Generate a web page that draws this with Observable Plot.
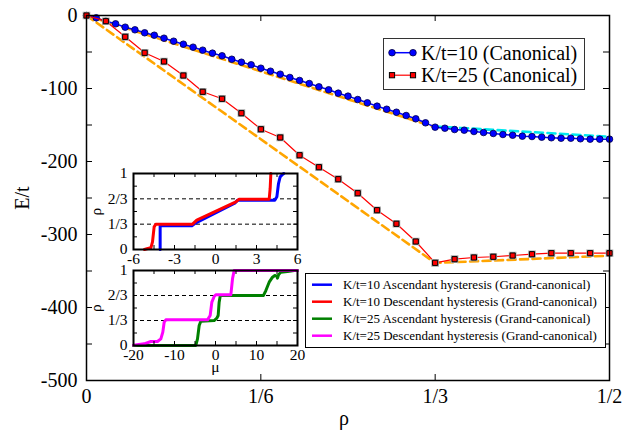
<!DOCTYPE html>
<html><head><meta charset="utf-8">
<script src="https://cdn.jsdelivr.net/npm/d3@7"></script>
<script src="https://cdn.jsdelivr.net/npm/@observablehq/plot@0.6"></script>
<style>
body{margin:0;background:white;}
#chart{position:relative;width:635px;height:431px;overflow:hidden;background:white;}
#chart svg{position:absolute;left:0;top:0;}
</style></head><body><div id="chart"></div>
<script>
// ---------- main chart data ----------
const rhoK10 = [0,.0093,.0185,.0278,.0370,.0463,.0556,.0648,.0741,.0833,.0926,.1019,.1111,.1204,.1296,.1389,.1481,.1574,.1667,.1759,.1852,.1944,.2037,.2130,.2222,.2315,.2407,.2500,.2593,.2685,.2778,.2870,.2963,.3056,.3148,.3241,.3333,.3426,.3519,.3611,.3704,.3796,.3889,.3981,.4074,.4167,.4259,.4352,.4444,.4537,.4630,.4722,.4815,.4907,.5000];
const eK10 = [0,-3.2,-7.8,-11.4,-16.0,-19.6,-23.7,-27.0,-31.1,-35.2,-39.3,-43.4,-47.5,-51.6,-55.2,-59.9,-64.0,-67.5,-72.2,-76.3,-80.4,-84.9,-89.0,-93.2,-97.7,-101.8,-106.4,-110.5,-115.1,-119.6,-124.2,-128.4,-132.5,-137.0,-141.5,-147.0,-153.0,-154.4,-156.2,-157.1,-158.9,-160.3,-161.6,-163.0,-164.0,-165.3,-165.8,-166.7,-167.5,-168.1,-168.1,-168.9,-169.4,-169.4,-169.4];
const rhoK25 = [0,.0185,.0370,.0556,.0741,.0926,.1111,.1296,.1481,.1667,.1852,.2037,.2222,.2407,.2593,.2778,.2963,.3148,.3333,.3519,.3704,.3889,.4074,.4259,.4444,.4630,.4815,.5000];
const eK25 = [0,-7.8,-29.2,-51.1,-63.0,-82.2,-104.5,-114.1,-133.8,-155.8,-167.1,-191.4,-207.8,-224.2,-243.4,-266.7,-285.3,-309.6,-338.8,-333.8,-331.5,-330.5,-328.8,-327.0,-325.6,-325.6,-325.6,-325.6];
// dashed guide lines
const fitRho10a = [0, 1/3], fitE10a = [0, -153];
const fitRho10b = [1/3, 1/2], fitE10b = [-152, -166];
const fitRho25 = [0, 1/3, 1/2], fitE25 = [0, -339, -329];
// ticks
const xTicks = [0, 1/6, 1/3, 1/2];
const xTickLabels = ["0", "1/6", "1/3", "1/2"];
const yTicks = [-500, -400, -300, -200, -100, 0];
const yMinorTicks = [-500,-450,-400,-350,-300,-250,-200,-150,-100,-50,0];

// ---------- inset data ----------
const muK10asc  = [-4.05,-4.05,-3.95,-1.73,-1.44,1.37,1.56,1.61,4.34,4.49,4.61,4.73,4.90,5.0];
const rhoK10asc = [0,0.311,0.311,0.311,0.351,0.605,0.636,0.649,0.649,0.693,0.868,0.956,0.987,1];
const muK10desc  = [-5.2,-5.02,-4.73,-4.61,-4.49,-4.37,-1.68,-1.37,1.49,1.73,3.93,4.0,4.05];
const rhoK10desc = [0,0.009,0.022,0.101,0.298,0.333,0.333,0.386,0.627,0.662,0.662,0.803,1];
const muK25asc  = [-20,-4.80,-4.39,-3.98,-3.58,-0.33,0.33,0.65,0.89,1.14,1.46,11.71,12.28,13.09,13.90,14.47,14.96,15.12,15.37,15.93,17.56,19.19,20];
const rhoK25asc = [0,0,0.089,0.267,0.324,0.333,0.364,0.4,0.578,0.658,0.667,0.667,0.733,0.844,0.911,0.933,0.924,0.898,0.942,0.978,0.987,1,1];
const muK25desc  = [-20,-17.4,-15.77,-14.15,-13.33,-12.85,-12.52,-12.11,-1.95,-1.30,-0.89,-0.33,0.08,3.74,4.15,4.55,20];
const rhoK25desc = [0.005,0.022,0.053,0.053,0.089,0.178,0.311,0.342,0.342,0.4,0.578,0.653,0.676,0.676,0.889,1,1];
const insetYTicks = [0, 1/3, 2/3, 1];
const insetYLabels = ["0", "1/3", "2/3", "1"];
const insetYMinor = [0, 1/6, 1/3, 1/2, 2/3, 5/6, 1];
const insetGrid = [1/3, 2/3];
const topXTicks = [-6, -3, 0, 3, 6];
const topXMinor = [-6,-4.5,-3,-1.5,0,1.5,3,4.5,6];
const botXTicks = [-20, -10, 0, 10, 20];
const botXMinor = [-20,-15,-10,-5,0,5,10,15,20];

// legends
const mainLegend = [
  {label: "K/t=10 (Canonical)", color: "#0000ff", symbol: "circle"},
  {label: "K/t=25 (Canonical)", color: "#ff0000", symbol: "square"}
];
const insetLegend = [
  {label: "K/t=10 Ascendant hysteresis (Grand-canonical)", color: "#0000ff"},
  {label: "K/t=10 Descendant hysteresis (Grand-canonical)", color: "#ff0000"},
  {label: "K/t=25 Ascendant hysteresis (Grand-canonical)", color: "#008000"},
  {label: "K/t=25 Descendant hysteresis (Grand-canonical)", color: "#ff00ff"}
];

const zip = (xs, ys) => xs.map((x, i) => ({x, y: ys[i]}));
const F = "'Liberation Serif', 'Times New Roman', serif";
const W = 635, H = 431;
const chart = document.getElementById("chart");

// ---------- main ----------
const mL = 86, mR = 26, mT = 15, mB = 51;
const fw = W - mL - mR, fh = H - mT - mB, tl = 6;
const main = Plot.plot({
  width: W, height: H, marginLeft: mL, marginRight: mR, marginTop: mT, marginBottom: mB,
  style: {fontFamily: F, fontSize: "20px", background: "white", color: "black", overflow: "visible"},
  x: {domain: [0, 0.5]},
  y: {domain: [-500, 0]},
  marks: [
    Plot.line(zip(fitRho25, fitE25), {x: "x", y: "y", stroke: "#ffa500", strokeWidth: 2.6, strokeDasharray: "8,4.5"}),
    Plot.line(zip(fitRho10a, fitE10a), {x: "x", y: "y", stroke: "#ffa500", strokeWidth: 2.6, strokeDasharray: "8,4.5"}),
    Plot.line(zip(fitRho10b, fitE10b), {x: "x", y: "y", stroke: "#00e8f0", strokeWidth: 2.6, strokeDasharray: "8,4.5"}),
    Plot.line(zip(rhoK10, eK10), {x: "x", y: "y", stroke: "#0000ff", strokeWidth: 1.5}),
    Plot.dot(zip(rhoK10, eK10), {x: "x", y: "y", r: 3.3, fill: "#0000ff", stroke: "#000044", strokeWidth: 0.8}),
    Plot.line(zip(rhoK25, eK25), {x: "x", y: "y", stroke: "#ff0000", strokeWidth: 1.2}),
    Plot.dot(zip(rhoK25, eK25), {x: "x", y: "y", symbol: "square", r: 3.4, fill: "none", stroke: "#aaaaaa", strokeWidth: 1.6}),
    Plot.dot(zip(rhoK25, eK25), {x: "x", y: "y", symbol: "square", r: 2.9, fill: "#ff0000", stroke: "black", strokeWidth: 1}),
    Plot.tickY(yMinorTicks, {y: d => d, insetRight: fw - tl, stroke: "black"}),
    Plot.tickY(yMinorTicks, {y: d => d, insetLeft: fw - tl, stroke: "black"}),
    Plot.tickX(xTicks, {x: d => d, insetTop: fh - tl, stroke: "black"}),
    Plot.tickX(xTicks, {x: d => d, insetBottom: fh - tl, stroke: "black"}),
    Plot.frame({stroke: "black", strokeWidth: 1.5}),
    Plot.axisX(xTicks, {tickSize: 0, tickPadding: 8, tickFormat: d => xTickLabels[xTicks.indexOf(d)], label: null}),
    Plot.axisY(yTicks, {tickSize: 0, tickPadding: 9, tickFormat: d => String(d), label: null}),
    Plot.text(["E/t"], {text: d => d, frameAnchor: "left", dx: -64, rotate: -90, textAnchor: "middle", lineAnchor: "middle", fontSize: 20}),
    Plot.text(["ρ"], {text: d => d, frameAnchor: "bottom", dx: -4, dy: 38, textAnchor: "middle", lineAnchor: "middle", fontSize: 20})
  ]
});
chart.appendChild(main);

// ---------- insets ----------
function inset({top, bottom, xDomain, xMajor, xMinor, series, xLabel}) {
  const iL = 133, iR = 297;
  const iw = iR - iL, ih = bottom - top, itl = 4;
  return Plot.plot({
    width: W, height: H, marginLeft: iL, marginRight: W - iR, marginTop: top, marginBottom: H - bottom,
    style: {fontFamily: F, fontSize: "15.5px", background: "transparent", color: "black", overflow: "visible"},
    x: {domain: xDomain}, y: {domain: [0, 1]},
    marks: [
      Plot.frame({fill: "white", stroke: null}),
      Plot.ruleY(insetGrid, {y: d => d, stroke: "black", strokeWidth: 1, strokeDasharray: "4,3"}),
      ...series.map(s => Plot.line(zip(s.mu, s.rho), {x: "x", y: "y", stroke: s.color, strokeWidth: 3, strokeLinejoin: "round"})),
      Plot.tickY(insetYMinor, {y: d => d, insetRight: iw - itl, stroke: "black"}),
      Plot.tickY(insetYMinor, {y: d => d, insetLeft: iw - itl, stroke: "black"}),
      Plot.tickX(xMinor, {x: d => d, insetTop: ih - itl, stroke: "black"}),
      Plot.tickX(xMinor, {x: d => d, insetBottom: ih - itl, stroke: "black"}),
      Plot.frame({stroke: "black", strokeWidth: 2}),
      Plot.axisX(xMajor, {tickSize: 0, tickPadding: 3, tickFormat: d => String(d), label: null}),
      Plot.axisY(insetYTicks, {tickSize: 0, tickPadding: 6, tickFormat: d => insetYLabels[insetYTicks.indexOf(d)], label: null}),
      Plot.text(["ρ"], {text: d => d, frameAnchor: "left", dx: -37, rotate: -90, textAnchor: "middle", lineAnchor: "middle", fontSize: 15.5}),
      ...(xLabel ? [Plot.text([xLabel], {text: d => d, frameAnchor: "bottom", dy: 22, textAnchor: "middle", lineAnchor: "middle", fontSize: 15.5})] : [])
    ]
  });
}
chart.appendChild(inset({
  top: 173, bottom: 249, xDomain: [-6, 6], xMajor: topXTicks, xMinor: topXMinor,
  series: [
    {mu: muK10asc, rho: rhoK10asc, color: "#0000ff"},
    {mu: muK10desc, rho: rhoK10desc, color: "#ff0000"}
  ]
}));
chart.appendChild(inset({
  top: 270, bottom: 345, xDomain: [-20, 20], xMajor: botXTicks, xMinor: botXMinor, xLabel: "μ",
  series: [
    {mu: muK25asc, rho: rhoK25asc, color: "#008000"},
    {mu: muK25desc, rho: rhoK25desc, color: "#ff00ff"}
  ]
}));

// ---------- legends ----------
const svg = d3.select(chart).append("svg").attr("width", W).attr("height", H)
  .style("font-family", F).style("pointer-events", "none");
// main legend
svg.append("rect").attr("x", 383.5).attr("y", 38.5).attr("width", 201).attr("height", 51)
  .attr("fill", "white").attr("stroke", "#333").attr("stroke-width", 1);
mainLegend.forEach((d, i) => {
  const y = 52.7 + i * 22.5;
  const g = svg.append("g");
  g.append("line").attr("x1", 392).attr("x2", 413).attr("y1", y).attr("y2", y)
    .attr("stroke", d.color).attr("stroke-width", d.symbol === "circle" ? 1.5 : 1.2);
  [392, 413].forEach(x => {
    if (d.symbol === "circle") {
      g.append("circle").attr("cx", x).attr("cy", y).attr("r", 3.3).attr("fill", d.color).attr("stroke", "#000044").attr("stroke-width", 0.8);
    } else {
      g.append("rect").attr("x", x - 2.6).attr("y", y - 2.6).attr("width", 5.2).attr("height", 5.2).attr("fill", d.color).attr("stroke", "black").attr("stroke-width", 1);
    }
  });
  g.append("text").attr("x", 421).attr("y", y).attr("dy", "0.35em").attr("font-size", 20).text(d.label);
});
// inset legend
svg.append("rect").attr("x", 305.5).attr("y", 273.5).attr("width", 300).attr("height", 74)
  .attr("fill", "white").attr("stroke", "black").attr("stroke-width", 1);
insetLegend.forEach((d, i) => {
  const y = 284.7 + i * 17;
  svg.append("line").attr("x1", 312).attr("x2", 332).attr("y1", y).attr("y2", y)
    .attr("stroke", d.color).attr("stroke-width", 2.5);
  svg.append("text").attr("x", 343).attr("y", y).attr("dy", "0.35em").attr("font-size", 13).text(d.label);
});
</script></body></html>
